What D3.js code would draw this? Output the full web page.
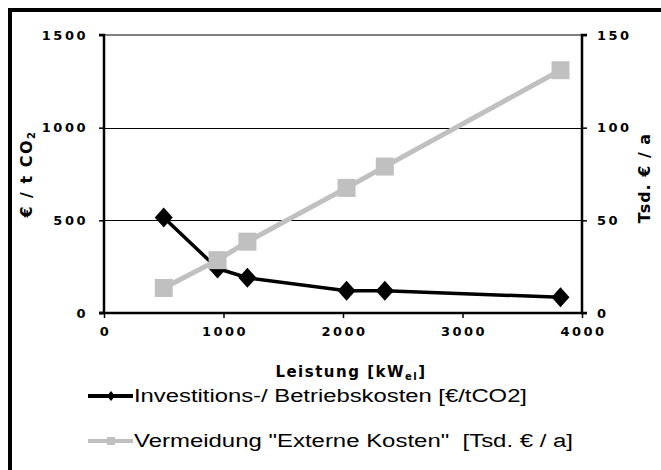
<!DOCTYPE html>
<html>
<head>
<meta charset="utf-8">
<script src="https://cdn.jsdelivr.net/npm/d3@7"></script>
<style>
  html, body { margin: 0; padding: 0; background: #fff; }
  svg { display: block; }
  .tick-label { font-family: "DejaVu Sans", sans-serif; font-weight: bold; font-size: 13px; letter-spacing: 2.5px; fill: #000; }
  .title { font-family: "DejaVu Sans", sans-serif; font-weight: bold; fill: #000; }
  .legend-text { font-family: "Liberation Sans", Arial, sans-serif; font-size: 18px; fill: #000; white-space: pre; }
</style>
</head>
<body>
<svg id="chart" width="661" height="470"></svg>
<script>
// Power output (kW) of each plant
const leistung = [500, 950, 1200, 2030, 2350, 3820];
// Investment / operating costs (€ per t CO2), left axis
const kosten = [515, 240, 190, 120, 120, 85];
// Avoided external costs (thousand € per year), right axis
const vermeidung = [13.5, 28.5, 38.5, 67.5, 79, 131];

const xTicks = [0, 1000, 2000, 3000, 4000];
const yLeftTicks = [0, 500, 1000, 1500];
const yRightTicks = [0, 50, 100, 150];

const seriesNames = [
  "Investitions-/ Betriebskosten [€/tCO2]",
  "Vermeidung \"Externe Kosten\"  [Tsd. € / a]"
];

const svg = d3.select("#chart");

const plot = { left: 104, right: 582, top: 35, bottom: 313 };

const x = d3.scaleLinear().domain([0, 4000]).range([plot.left, plot.right]);
const yL = d3.scaleLinear().domain([0, 1500]).range([plot.bottom, plot.top]);
const yR = d3.scaleLinear().domain([0, 150]).range([plot.bottom, plot.top]);

// Outer frame (runs off the right and bottom edges)
svg.append("rect")
  .attr("x", 10).attr("y", 10)
  .attr("width", 700).attr("height", 520)
  .attr("fill", "none").attr("stroke", "#000").attr("stroke-width", 4);

// Horizontal gridlines at the left-axis ticks
svg.append("g").selectAll("line")
  .data(yLeftTicks.filter(d => d > 0 && d < 1500))
  .join("line")
  .attr("x1", plot.left).attr("x2", plot.right)
  .attr("y1", d => Math.round(yL(d)) + 0.5).attr("y2", d => Math.round(yL(d)) + 0.5)
  .attr("stroke", "#000").attr("stroke-width", 1);

// Top border of the plot area
svg.append("line")
  .attr("x1", plot.left).attr("x2", plot.right)
  .attr("y1", plot.top).attr("y2", plot.top)
  .attr("stroke", "#808080").attr("stroke-width", 2);

// Left axis
const leftAxis = svg.append("g")
  .attr("transform", `translate(${plot.left},0)`)
  .call(d3.axisLeft(yL).tickValues(yLeftTicks).tickSize(5).tickPadding(11).tickFormat(d3.format("d")));

// Right axis
const rightAxis = svg.append("g")
  .attr("transform", `translate(${plot.right},0)`)
  .call(d3.axisRight(yR).tickValues(yRightTicks).tickSize(5).tickPadding(10).tickFormat(d3.format("d")));

// Bottom axis
const bottomAxis = svg.append("g")
  .attr("transform", `translate(0,${plot.bottom})`)
  .call(d3.axisBottom(x).tickValues(xTicks).tickSize(5).tickPadding(9).tickFormat(d3.format("d")));

[leftAxis, rightAxis, bottomAxis].forEach(g => {
  g.select(".domain").attr("stroke", "#000").attr("stroke-width", 2.5);
  g.selectAll(".tick line").attr("stroke", "#000").attr("stroke-width", 1.5);
  g.selectAll(".tick text").attr("class", "tick-label").attr("font-family", null).attr("font-size", null);
  g.attr("font-family", null).attr("font-size", null);
});
leftAxis.select(".domain").attr("d", `M-5,${plot.top}H0V${plot.bottom}H-5`);
rightAxis.select(".domain").attr("d", `M5,${plot.top}H0V${plot.bottom}H5`);
bottomAxis.select(".domain").attr("d", `M${plot.left - 5},0H${plot.right}`);
// Letter spacing adds trailing space; nudge centred x labels back
bottomAxis.selectAll(".tick text").attr("dx", 1);

// Series 1: costs (black line with diamonds)
const diamond = (cx, cy, w, h) => `M${cx},${cy - h}L${cx + w},${cy}L${cx},${cy + h}L${cx - w},${cy}Z`;

const pts1 = leistung.map((d, i) => [x(d), yL(kosten[i])]);
svg.append("path")
  .attr("d", d3.line()(pts1))
  .attr("fill", "none").attr("stroke", "#000").attr("stroke-width", 3.5)
  .attr("stroke-linejoin", "round");
svg.append("g").selectAll("path")
  .data(pts1).join("path")
  .attr("d", p => diamond(p[0], p[1], 9, 10))
  .attr("fill", "#000");

// Series 2: avoided external costs (grey line with squares)
const pts2 = leistung.map((d, i) => [x(d), yR(vermeidung[i])]);
svg.append("path")
  .attr("d", d3.line()(pts2))
  .attr("fill", "none").attr("stroke", "#c0c0c0").attr("stroke-width", 5);
svg.append("g").selectAll("rect")
  .data(pts2).join("rect")
  .attr("x", p => p[0] - 9).attr("y", p => p[1] - 9)
  .attr("width", 18).attr("height", 18)
  .attr("fill", "#c0c0c0");

// Axis titles
const xTitle = svg.append("text")
  .attr("class", "title")
  .attr("font-size", "15px")
  .attr("x", 351).attr("y", 377)
  .attr("text-anchor", "middle")
  .style("letter-spacing", "1.5px");
xTitle.append("tspan").text("Leistung [kW");
xTitle.append("tspan").attr("font-size", "10px").attr("dy", 3).text("el");
xTitle.append("tspan").attr("dy", -3).text("]");

const yLTitle = svg.append("text")
  .attr("class", "title")
  .attr("font-size", "16px")
  .attr("transform", `translate(32,${(plot.top + plot.bottom) / 2}) rotate(-90)`)
  .attr("text-anchor", "middle")
  .style("letter-spacing", "1.5px");
yLTitle.append("tspan").text("€ / t CO");
yLTitle.append("tspan").attr("font-size", "10px").attr("dy", 3).text("2");

svg.append("text")
  .attr("class", "title")
  .attr("font-size", "16px")
  .attr("transform", `translate(650,${(plot.top + plot.bottom) / 2 + 4}) rotate(-90)`)
  .attr("text-anchor", "middle")
  .style("letter-spacing", "1px")
  .text("Tsd. € / a");

// Legend
const legend = svg.append("g");
const legendRows = [
  { y: 396, color: "#000", width: 4, mark: "diamond", len: 393 },
  { y: 441, color: "#c0c0c0", width: 4, mark: "square", len: 439 }
];
legendRows.forEach((r, i) => {
  legend.append("line")
    .attr("x1", 88).attr("x2", 133).attr("y1", r.y).attr("y2", r.y)
    .attr("stroke", r.color).attr("stroke-width", r.width);
  if (r.mark === "diamond") {
    legend.append("path").attr("d", diamond(111, r.y, 4, 5)).attr("fill", r.color);
  } else {
    legend.append("rect").attr("x", 107).attr("y", r.y - 4).attr("width", 8).attr("height", 8).attr("fill", r.color);
  }
  legend.append("text")
    .attr("class", "legend-text")
    .attr("x", 134).attr("y", r.y + 6)
    .attr("textLength", r.len)
    .attr("lengthAdjust", "spacingAndGlyphs")
    .text(seriesNames[i]);
});
</script>
</body>
</html>
